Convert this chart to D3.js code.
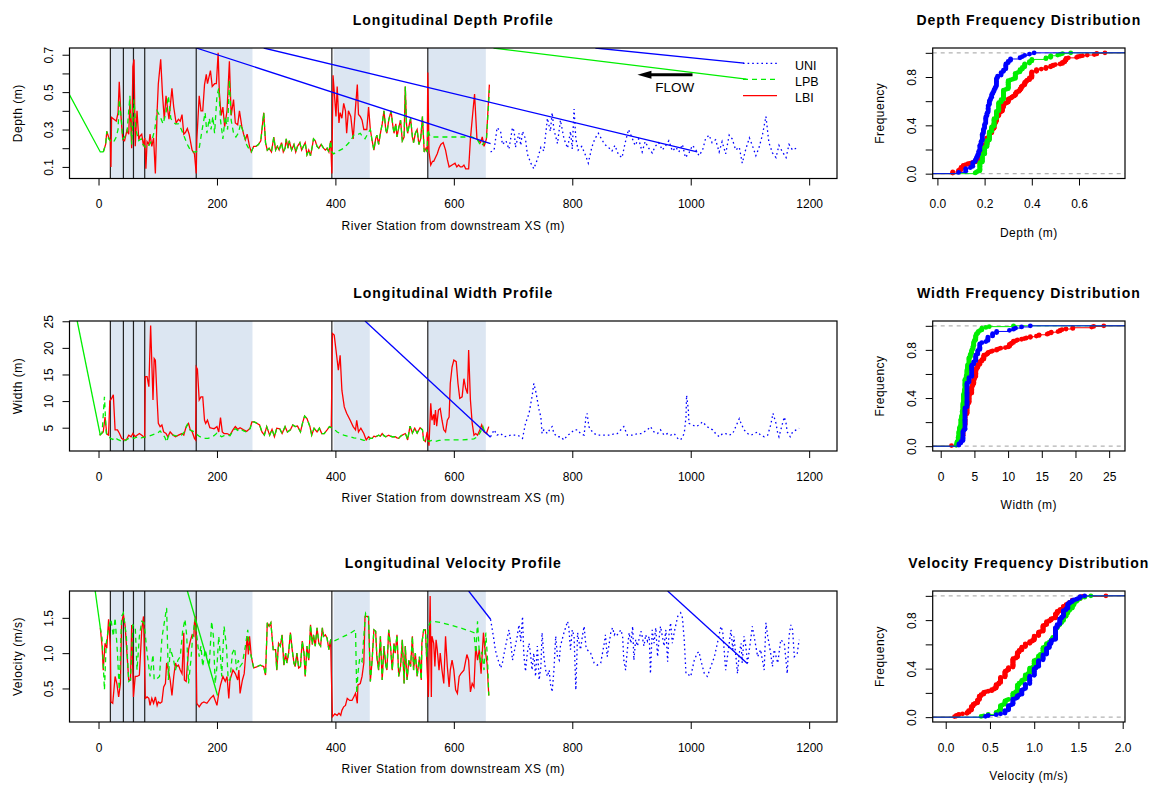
<!DOCTYPE html>
<html>
<head>
<meta charset="utf-8">
<script src="https://cdn.jsdelivr.net/npm/d3@7/dist/d3.min.js"></script>
<style>
body { margin: 0; background: #fff; }
svg text { font-family: "Liberation Sans", Arial, Helvetica, sans-serif; fill: #000; }
.title { font-size: 14px; font-weight: bold; letter-spacing: 1px; }
.axlab { font-size: 12px; letter-spacing: 0.5px; }
</style>
</head>
<body>
<svg id="chart" width="1149" height="785"></svg>
<script>
// ---------- data (station m, value) ----------
// depth (m)
let depthLbiA = [[8,0.18],[12,0.22],[14,0.29],[17,0.26],[20,0.24],[21,0.10],[22,0.365],[26,0.355],[30,0.345],[33,0.39],[35,0.555],[38,0.37],[41,0.245],[44,0.24],[48,0.295],[51,0.275],[53,0.46],[56,0.20],[58,0.635],[60,0.675],[62,0.21],[65,0.40],[68,0.245],[70,0.265],[73,0.275],[76,0.21],[78,0.255],[80,0.09],[82,0.235],[85,0.22],[87,0.275],[90,0.21],[93,0.255],[96,0.065],[99,0.40],[101,0.545],[105,0.675],[108,0.49],[111,0.355],[114,0.48],[117,0.40],[119,0.355],[124,0.52],[127,0.42],[131,0.335],[135,0.355],[138,0.345],[141,0.38],[144,0.275],[147,0.285],[150,0.305],[153,0.275],[158,0.19],[162,0.17],[165,0.065],[166,0.245],[170,0.48],[173,0.40],[176,0.40],[179,0.54],[182,0.595],[184,0.545],[189,0.615],[192,0.53],[196,0.545],[199,0.545],[202,0.71],[204,0.50],[207,0.375],[210,0.42],[213,0.315],[217,0.40],[221,0.665],[224,0.375],[228,0.46],[231,0.335],[235,0.325],[238,0.40],[242,0.315],[245,0.275],[248,0.245],[251,0.275],[255,0.21],[258,0.18]]
let depthLpbA = [[8,0.18],[12,0.22],[14,0.29],[17,0.25],[20,0.24],[25,0.23],[30,0.26],[33,0.30],[35,0.46],[38,0.37],[41,0.25],[44,0.26],[48,0.28],[53,0.48],[56,0.22],[60,0.46],[63,0.30],[68,0.24],[72,0.25],[75,0.22],[78,0.21],[82,0.20],[86,0.22],[90,0.24],[95,0.30],[99,0.40],[104,0.37],[109,0.33],[114,0.39],[118,0.48],[122,0.36],[126,0.34],[130,0.33],[135,0.33],[140,0.30],[145,0.26],[150,0.22],[155,0.19],[160,0.18],[165,0.18],[170,0.20],[175,0.30],[180,0.39],[183,0.28],[187,0.36],[190,0.30],[193,0.37],[196,0.28],[200,0.48],[203,0.52],[206,0.35],[210,0.25],[214,0.37],[218,0.30],[221,0.565],[224,0.35],[228,0.28],[232,0.26],[236,0.28],[240,0.33],[245,0.28],[250,0.22],[255,0.19],[258,0.18]]
let depthShared1 = [[262,0.21],[266,0.21],[270,0.22],[274,0.24],[276,0.30],[279,0.39],[282,0.23],[285,0.19],[288,0.20],[292,0.18],[296,0.26],[299,0.19],[302,0.21],[305,0.19],[309,0.23],[312,0.18],[315,0.20],[317,0.25],[320,0.20],[322,0.24],[326,0.19],[330,0.22],[333,0.18],[336,0.21],[340,0.23],[343,0.19],[346,0.21],[349,0.23],[352,0.165],[355,0.19],[358,0.16],[361,0.21],[363,0.25],[366,0.24],[369,0.21],[372,0.20],[376,0.22],[380,0.20],[383,0.19],[386,0.20],[389,0.18],[392,0.24]]
let depthLbiB = [[394,0.065],[396,0.59],[399,0.46],[401,0.37],[403,0.53],[406,0.335],[408,0.39],[411,0.36],[414,0.44],[417,0.40],[419,0.28],[422,0.40],[426,0.37],[430,0.25],[434,0.42],[437,0.54],[439,0.38],[442,0.37],[445,0.35],[448,0.30],[453,0.30],[456,0.42],[459,0.30]]
let depthLpbB = [[394,0.18],[397,0.17],[402,0.18],[408,0.19],[414,0.20],[420,0.22],[426,0.24],[431,0.27],[436,0.27],[442,0.28],[446,0.26],[450,0.25],[455,0.28],[459,0.30]]
let depthShared2 = [[462,0.24],[465,0.19],[468,0.25],[470,0.27],[473,0.22],[476,0.28],[479,0.33],[482,0.40],[485,0.30],[487,0.28],[490,0.35],[494,0.40],[497,0.32],[499,0.28],[502,0.33],[504,0.26],[507,0.31],[510,0.35],[513,0.24],[516,0.26],[518,0.53],[520,0.33],[522,0.28],[525,0.33],[527,0.36],[530,0.26],[532,0.23],[535,0.28],[538,0.30],[541,0.22],[544,0.25],[547,0.37],[550,0.18],[553,0.20],[555,0.18]]
let depthLbiC = [[556,0.605],[558,0.18],[561,0.11],[564,0.13],[566,0.13],[569,0.15],[572,0.17],[575,0.20],[578,0.22],[582,0.23],[586,0.19],[589,0.14],[592,0.10],[597,0.11],[602,0.12],[605,0.10],[608,0.11],[611,0.10],[614,0.10],[617,0.11],[620,0.09],[625,0.09],[628,0.25],[632,0.39],[635,0.49],[639,0.25],[642,0.24],[645,0.23],[648,0.26],[651,0.21],[655,0.25],[660,0.54]]
let depthLpbC = [[556,0.30],[559,0.27],[562,0.26],[600,0.26],[630,0.26],[639,0.25],[646,0.21],[651,0.23],[655,0.24],[660,0.51]]
let depthUni = [[662,0.18],[668,0.19],[673,0.31],[679,0.29],[682,0.22],[688,0.24],[693,0.195],[699,0.31],[702,0.29],[704,0.205],[710,0.28],[713,0.215],[716,0.29],[721,0.25],[724,0.17],[730,0.12],[735,0.09],[741,0.14],[747,0.205],[752,0.185],[758,0.36],[763,0.29],[766,0.39],[769,0.30],[775,0.225],[780,0.35],[786,0.25],[792,0.2],[797,0.29],[800,0.195],[803,0.41],[806,0.25],[810,0.19],[816,0.21],[822,0.165],[827,0.12],[833,0.205],[838,0.25],[844,0.28],[850,0.245],[855,0.22],[861,0.205],[867,0.185],[872,0.215],[878,0.165],[884,0.15],[889,0.225],[895,0.30],[901,0.255],[906,0.215],[912,0.25],[918,0.18],[923,0.235],[929,0.2],[935,0.175],[940,0.21],[946,0.23],[952,0.19],[957,0.21],[963,0.24],[969,0.185],[975,0.205],[980,0.18],[986,0.22],[991,0.15],[997,0.175],[1003,0.215],[1008,0.195],[1014,0.16],[1020,0.19],[1025,0.25],[1031,0.27],[1036,0.23],[1042,0.245],[1048,0.18],[1053,0.235],[1059,0.17],[1065,0.27],[1070,0.25],[1076,0.19],[1082,0.205],[1087,0.12],[1093,0.195],[1099,0.255],[1104,0.215],[1110,0.16],[1115,0.2],[1121,0.27],[1127,0.37],[1132,0.23],[1138,0.175],[1144,0.15],[1149,0.215],[1155,0.18],[1161,0.15],[1166,0.22],[1172,0.19],[1178,0.20]]
// stray solid segments that show up in the original plot
let depthStrayGreen = [[[-49,0.485],[3,0.18],[8,0.18]], [[667,0.736],[1094,0.569]]]
let depthStrayBlue = [[[165,0.736],[662,0.225]], [[279,0.736],[1011,0.18]], [[839,0.736],[1090,0.655]]]

// width (m)
let widthLbiA = [[2,3.6],[8,4.2],[11,7.0],[14,3.8],[17,3.6],[19,10.0],[22,10.5],[25,11.2],[28,4.6],[32,4.6],[35,4.0],[39,3.0],[43,2.7],[47,2.7],[51,3.6],[55,3.3],[58,3.9],[62,3.3],[65,3.6],[69,3.9],[73,3.6],[76,3.3],[78,3.2],[79,14.6],[82,14.6],[85,12.7],[88,24.2],[92,10.2],[94,18.0],[96,17.7],[99,10.2],[101,5.8],[104,5.2],[107,5.5],[110,4.2],[114,3.9],[117,3.3],[121,4.2],[126,3.6],[130,3.3],[135,3.6],[141,3.9],[144,3.6],[148,5.2],[152,5.8],[155,4.6],[158,4.3],[162,3.0],[164,2.7],[165,16.4],[167,16.0],[170,10.2],[173,10.8],[176,10.8],[179,6.4],[181,5.8],[184,6.4],[188,5.0],[191,4.9],[195,4.8],[200,5.2],[203,4.2],[206,6.9],[209,4.2],[212,3.9],[217,3.9],[222,3.6],[227,4.6],[231,5.2],[235,4.7],[239,5.0],[245,4.6],[250,4.3],[256,4.9],[259,6.1]]
let widthLpbA = [[2,3.6],[6,4.0],[10,10.8],[13,4.0],[17,3.4],[20,3.0],[24,2.8],[28,3.2],[32,2.8],[36,2.6],[40,2.4],[44,2.5],[48,2.8],[52,3.0],[56,3.2],[60,3.0],[64,3.2],[68,3.3],[72,3.1],[76,3.2],[80,3.3],[85,3.4],[90,3.6],[95,3.8],[100,4.0],[104,4.4],[108,3.8],[112,3.2],[115,2.3],[118,3.4],[122,3.8],[126,3.6],[130,3.5],[135,3.4],[140,3.6],[145,4.2],[150,5.6],[154,4.6],[158,4.4],[162,4.2],[165,3.8],[170,3.4],[175,3.1],[180,3.0],[185,3.0],[190,3.2],[195,3.5],[200,4.0],[204,3.6],[208,3.3],[212,3.5],[217,3.6],[222,3.5],[227,4.4],[231,4.8],[235,4.5],[239,4.8],[245,4.4],[250,4.2],[256,4.8],[259,6.1]]
let widthShared1 = [[263,6.1],[268,5.8],[272,5.5],[276,4.2],[280,3.6],[284,5.2],[289,3.6],[293,4.7],[297,3.3],[301,4.9],[306,4.8],[310,3.9],[315,5.2],[319,4.2],[324,4.6],[328,5.5],[332,5.2],[336,5.3],[341,4.2],[345,6.1],[348,7.2],[352,6.7],[357,5.2],[360,3.6],[364,4.9],[369,4.2],[373,4.9],[377,3.9],[381,3.9],[386,4.6],[390,5.2],[393,5.0]]
let widthLbiB = [[395,22.7],[398,22.4],[401,19.6],[405,15.8],[408,18.6],[411,12.0],[415,8.9],[419,7.7],[425,6.4],[430,5.2],[434,4.6],[436,6.4],[439,4.2],[443,4.9],[448,3.9],[452,2.7],[456,3.3],[459,3.0]]
let widthLpbB = [[396,4.9],[403,4.2],[408,3.9],[414,3.6],[420,3.4],[425,3.3],[431,3.1],[437,3.0],[443,2.8],[448,2.6],[453,2.6],[456,2.7],[459,3.0]]
let widthShared2 = [[462,3.0],[465,3.4],[468,3.3],[473,3.6],[476,3.4],[479,3.9],[482,3.5],[485,3.3],[490,3.6],[493,3.4],[496,3.3],[501,3.3],[504,3.1],[507,3.0],[510,3.4],[513,3.6],[518,3.9],[520,3.4],[522,2.7],[526,5.3],[530,4.0],[534,4.9],[538,4.0],[543,5.0],[547,4.6],[549,2.7],[552,2.4]]
let widthLbiC = [[555,4.2],[558,1.6],[561,9.6],[563,6.4],[566,7.5],[567,5.5],[569,8.3],[571,5.3],[574,8.3],[577,8.6],[580,6.4],[583,4.6],[586,4.2],[589,6.4],[592,7.0],[594,13.3],[597,16.4],[600,17.7],[604,17.4],[607,13.3],[610,10.5],[614,10.8],[617,14.2],[620,12.4],[623,11.4],[625,19.6],[628,10.2],[631,5.8],[634,3.6],[637,3.9],[640,3.6],[644,4.6],[647,5.5],[651,4.2],[655,3.9],[659,5.2]]
let widthLpbC = [[555,2.7],[558,2.4],[562,2.6],[568,2.4],[575,2.6],[585,2.7],[600,2.7],[615,2.7],[625,2.8],[634,2.9],[640,3.3],[645,4.2],[649,5.2],[653,3.9],[657,3.8]]
let widthUni = [[662,3.3],[668,4.6],[673,3.6],[679,3.9],[685,3.3],[690,3.4],[696,3.6],[702,3.6],[707,3.6],[713,3.3],[716,3.0],[721,5.8],[727,7.7],[732,10.8],[735,13.3],[738,12.0],[741,10.2],[744,8.3],[747,7.0],[749,3.9],[752,4.6],[758,3.9],[763,4.9],[766,5.2],[769,3.9],[775,3.3],[780,3.3],[786,2.7],[792,3.6],[797,3.9],[803,4.6],[809,4.6],[814,3.9],[820,3.6],[823,7.0],[825,7.7],[828,5.2],[831,4.6],[837,3.9],[842,3.6],[848,3.6],[854,3.6],[859,3.6],[865,3.6],[871,3.9],[876,3.9],[882,4.6],[887,5.2],[893,3.6],[899,3.6],[904,3.6],[910,3.9],[916,3.9],[921,4.2],[927,4.6],[932,5.2],[938,4.2],[944,3.9],[949,4.6],[955,3.6],[961,3.9],[966,3.6],[972,3.9],[978,3.0],[983,2.7],[989,3.9],[992,7.0],[993,11.1],[996,8.3],[997,5.8],[1003,5.5],[1009,5.2],[1014,5.5],[1020,6.1],[1025,5.5],[1031,4.9],[1037,4.6],[1042,3.9],[1048,3.3],[1054,3.9],[1059,3.9],[1065,3.6],[1071,3.9],[1076,5.2],[1082,6.7],[1085,5.8],[1090,4.6],[1096,3.9],[1102,3.6],[1107,3.9],[1113,4.2],[1118,3.6],[1124,3.3],[1130,3.6],[1135,5.5],[1139,7.7],[1144,5.8],[1147,3.9],[1149,3.3],[1155,5.8],[1158,7.0],[1161,5.8],[1163,4.2],[1168,3.3],[1172,4.2],[1178,4.6],[1183,4.9]]
let widthStrayGreen = [[[-36,25.05],[3,3.6]]]
let widthStrayBlue = [[[450,25.05],[662,3.2]]]

// velocity (m/s)
let velLbiA = [[3,1.36],[6,1.10],[8,0.76],[11,1.14],[14,1.07],[17,1.48],[20,1.10],[21,0.31],[24,0.29],[28,0.67],[31,0.57],[34,0.38],[37,0.57],[39,1.43],[42,1.55],[45,1.38],[48,1.0],[51,0.62],[54,0.62],[56,1.40],[59,0.38],[62,0.67],[65,0.67],[69,0.69],[73,1.33],[76,1.52],[79,0.36],[82,0.38],[85,0.36],[87,0.26],[90,0.36],[93,0.29],[96,0.38],[99,0.26],[101,0.31],[104,0.29],[107,0.31],[110,0.52],[113,0.57],[115,0.86],[118,0.76],[121,0.62],[124,0.40],[127,0.67],[130,0.86],[132,0.81],[135,0.83],[138,0.76],[141,0.71],[144,1.29],[145,0.62],[148,0.60],[152,1.05],[155,1.17],[158,1.26],[161,1.24],[162,1.43],[164,1.52],[166,0.29],[170,0.24],[174,0.29],[178,0.31],[183,0.29],[189,0.36],[194,0.40],[200,0.26],[203,0.43],[206,0.55],[210,0.67],[214,0.60],[217,0.67],[220,0.36],[222,0.62],[227,0.76],[231,0.71],[235,0.62],[237,0.76],[239,0.43],[243,0.62],[246,0.71],[251,1.24],[253,0.98],[255,1.24],[258,0.95]]
let velLpbA = [[3,1.36],[6,1.21],[10,0.48],[13,1.14],[17,1.36],[21,1.48],[25,1.24],[28,1.50],[32,1.0],[35,0.48],[39,1.52],[42,1.57],[47,1.24],[51,0.60],[54,0.62],[58,1.40],[62,1.38],[65,0.76],[69,1.24],[73,1.45],[77,1.43],[82,1.0],[87,0.67],[92,0.98],[94,0.62],[99,0.64],[103,0.67],[107,1.21],[111,1.43],[115,1.64],[118,0.62],[121,1.07],[126,0.93],[130,0.76],[134,0.90],[138,0.95],[142,1.31],[146,1.48],[149,1.24],[152,0.57],[156,0.90],[159,1.24],[163,1.48],[166,1.24],[170,0.95],[173,1.10],[176,0.81],[180,1.05],[183,0.95],[187,0.81],[191,1.45],[194,1.24],[197,0.57],[200,0.81],[203,1.24],[206,0.95],[208,0.67],[212,1.38],[216,1.10],[219,0.62],[222,0.62],[226,1.0],[230,1.07],[233,0.76],[236,0.90],[239,0.81],[243,0.86],[248,1.10],[252,1.33],[255,1.05],[258,0.95]]
let velShared1 = [[262,0.79],[268,0.81],[273,0.83],[279,0.81],[282,0.69],[285,1.43],[288,1.38],[291,1.43],[295,1.05],[299,1.05],[301,0.76],[304,1.14],[307,1.10],[310,1.26],[313,0.83],[316,1.0],[318,0.86],[321,1.0],[324,1.29],[327,1.05],[330,0.86],[332,0.81],[335,1.0],[338,0.79],[341,0.81],[344,1.17],[347,1.0],[349,0.67],[352,1.10],[355,0.90],[358,1.40],[361,1.12],[363,1.26],[366,1.10],[369,1.36],[372,1.14],[375,1.10],[378,1.36],[380,1.24],[383,1.26],[386,1.21],[389,1.05],[392,1.19]]
let velLbiB = [[393,0.76],[395,0.10],[399,0.14],[403,0.12],[406,0.15],[409,0.12],[411,0.19],[414,0.24],[417,0.26],[420,0.36],[424,0.33],[428,0.33],[431,0.38],[434,0.43],[437,0.29],[438,0.55],[442,0.57],[445,0.67],[448,0.86],[450,1.52],[454,1.52],[456,1.50],[459,0.60]]
let velLpbB = [[393,1.19],[397,1.17],[405,1.20],[415,1.24],[425,1.28],[434,1.33],[436,0.43],[438,0.71],[441,0.93],[445,0.88],[448,1.24],[451,1.57],[456,1.52],[459,0.60]]
let velShared2 = [[462,0.90],[465,1.33],[468,1.31],[470,0.95],[473,0.76],[476,1.24],[479,0.62],[482,1.10],[485,0.83],[487,0.76],[490,1.33],[493,1.10],[496,0.76],[499,1.14],[501,1.0],[504,1.26],[507,0.67],[510,0.81],[513,1.19],[516,0.57],[518,1.10],[521,0.62],[524,0.90],[527,0.81],[530,1.24],[532,0.76],[535,1.0],[538,0.67],[542,0.95],[545,0.62],[546,1.14],[549,1.33],[552,1.33],[554,0.95]]
let velLbiC = [[557,0.38],[560,1.81],[562,0.38],[563,1.24],[566,1.14],[568,0.81],[570,1.19],[572,1.05],[575,0.76],[577,1.0],[580,0.76],[583,0.57],[586,1.24],[589,0.81],[592,0.52],[594,0.76],[597,0.90],[600,0.76],[603,0.48],[606,0.43],[609,0.67],[612,0.71],[617,0.76],[622,0.98],[625,0.90],[628,0.45],[631,0.57],[634,0.52],[637,1.10],[640,0.90],[643,1.05],[646,0.71],[650,1.29],[652,1.10],[656,0.86],[659,0.40]]
let velLpbC = [[557,1.38],[561,1.45],[566,1.45],[580,1.43],[594,1.40],[610,1.36],[628,1.31],[634,1.29],[637,1.0],[640,1.45],[644,0.86],[647,1.02],[651,0.76],[654,1.29],[657,0.90],[659,0.40]]
let velUni = [[662,1.48],[665,1.33],[668,1.17],[670,1.05],[673,0.95],[679,0.79],[682,0.86],[685,1.0],[690,1.21],[693,1.33],[696,1.17],[699,0.90],[702,1.02],[707,1.24],[710,1.40],[713,1.17],[716,1.52],[718,1.0],[721,0.74],[724,1.0],[727,1.14],[730,0.95],[732,0.76],[735,1.0],[738,0.67],[741,1.10],[744,0.62],[747,0.81],[749,1.29],[752,0.95],[755,0.76],[758,0.67],[761,0.76],[763,0.57],[766,0.45],[769,0.76],[772,1.24],[775,0.95],[778,0.90],[780,1.10],[786,1.29],[792,1.45],[794,1.38],[797,1.05],[800,1.33],[803,1.24],[806,0.48],[809,1.29],[811,1.17],[814,1.05],[817,1.24],[820,1.38],[823,1.10],[825,1.05],[831,1.0],[837,0.86],[842,0.83],[848,0.86],[854,1.14],[856,1.26],[859,0.95],[865,1.29],[868,1.36],[871,1.26],[873,1.29],[876,1.26],[882,1.33],[885,1.24],[887,0.90],[890,0.76],[893,1.05],[896,1.29],[899,1.14],[902,1.38],[904,0.90],[907,1.19],[910,1.10],[916,1.31],[918,1.24],[921,1.10],[924,1.26],[927,1.17],[930,1.24],[932,0.71],[935,1.33],[938,1.14],[941,1.36],[944,0.95],[947,1.24],[949,1.38],[955,1.10],[958,1.33],[961,0.88],[963,1.24],[966,1.43],[969,1.14],[972,1.29],[978,1.52],[983,1.57],[986,1.50],[989,1.19],[992,0.71],[994,0.71],[1000,0.67],[1006,0.90],[1011,1.0],[1014,1.02],[1017,0.90],[1023,0.71],[1028,0.67],[1034,0.81],[1040,0.95],[1045,1.14],[1051,1.38],[1054,1.31],[1059,0.76],[1062,0.95],[1068,1.33],[1071,1.05],[1073,1.24],[1079,0.71],[1082,1.0],[1085,1.14],[1087,0.86],[1090,1.24],[1093,1.10],[1096,0.86],[1102,1.24],[1104,1.38],[1107,1.24],[1113,0.95],[1118,1.05],[1124,0.76],[1127,1.43],[1130,1.24],[1135,1.0],[1138,0.81],[1141,1.05],[1147,0.86],[1152,1.19],[1158,1.14],[1163,0.71],[1166,1.24],[1169,1.40],[1172,1.33],[1175,0.95],[1180,1.0],[1183,1.19]]
let velStrayGreen = [[[-5.6,1.88],[3,1.36]], [[150,1.88],[201,0.40]]]
let velStrayBlue = [[[625,1.88],[662,1.48]], [[961,1.88],[1096,0.85]]]

// reach shading and cross-section markers (station m)
let shadedReaches = [[21,260],[397,458],[556,654]]
let xsStations = [20,42,59,78,165,394,556]

let seriesNames = ["UNI", "LPB", "LBI"]
let stationTicks = [0, 200, 400, 600, 800, 1000, 1200]
let freqTicks = [0, 0.2, 0.4, 0.6, 0.8, 1.0]
let freqLabels = [0, 0.4, 0.8]

// ---------- layout ----------
let svg = d3.select("#chart")
let profileLeft = 69.5, profileRight = 837
let ecdfLeft = 932.7, ecdfRight = 1125
let colors = {LBI: "#ff0000", LPB: "#00ee00", UNI: "#0000ff"}
let dashes = {LBI: null, LPB: "5,4", UNI: "1.6,3"}
let shadeColor = "#dce6f2"

let panels = [
	{
		top: 48, bottom: 178.5,
		title: "Longitudinal Depth Profile", ylab: "Depth (m)",
		yDomain: [0.038, 0.736], yTicks: [0.1, 0.2, 0.3, 0.4, 0.5, 0.6, 0.7], yLabels: [0.1, 0.3, 0.5, 0.7], yFmt: d3.format(".1f"),
		LBI: [...depthLbiA, ...depthShared1, ...depthLbiB, ...depthShared2, ...depthLbiC],
		LPB: [...depthLpbA, ...depthShared1, ...depthLpbB, ...depthShared2, ...depthLpbC],
		UNI: depthUni,
		strayGreen: depthStrayGreen, strayBlue: depthStrayBlue,
		eTitle: "Depth Frequency Distribution", eXlab: "Depth (m)",
		eDomain: [-0.02, 0.795], eTicks: [0, 0.2, 0.4, 0.6], eFmt: d3.format(".1f"),
		legend: true
	},
	{
		top: 321, bottom: 451,
		title: "Longitudinal Width Profile", ylab: "Width (m)",
		yDomain: [0.62, 25.05], yTicks: [5, 10, 15, 20, 25], yLabels: [5, 10, 15, 20, 25], yFmt: d3.format("d"),
		LBI: [...widthLbiA, ...widthShared1, ...widthLbiB, ...widthShared2, ...widthLbiC],
		LPB: [...widthLpbA, ...widthShared1, ...widthLpbB, ...widthShared2, ...widthLpbC],
		UNI: widthUni,
		strayGreen: widthStrayGreen, strayBlue: widthStrayBlue,
		eTitle: "Width Frequency Distribution", eXlab: "Width (m)",
		eDomain: [-1.19, 27.35], eTicks: [0, 5, 10, 15, 20, 25], eFmt: d3.format("d")
	},
	{
		top: 591, bottom: 722,
		title: "Longitudinal Velocity Profile", ylab: "Velocity (m/s)",
		yDomain: [0.025, 1.88], yTicks: [0.5, 1.0, 1.5], yLabels: [0.5, 1.0, 1.5], yFmt: d3.format(".1f"),
		LBI: [...velLbiA, ...velShared1, ...velLbiB, ...velShared2, ...velLbiC],
		LPB: [...velLpbA, ...velShared1, ...velLpbB, ...velShared2, ...velLpbC],
		UNI: velUni,
		strayGreen: velStrayGreen, strayBlue: velStrayBlue,
		eTitle: "Velocity Frequency Distribution", eXlab: "Velocity (m/s)",
		eDomain: [-0.147, 2.026], eTicks: [0, 0.5, 1.0, 1.5, 2.0], eFmt: d3.format(".1f")
	}
]

let xStation = d3.scaleLinear().domain([-49, 1247]).range([profileLeft, profileRight])

function styleAxis(g) {
	g.select(".domain").remove()
	g.selectAll(".tick line").attr("stroke", "#000")
	g.selectAll("text").style("font-size", "12px")
}

function rotateYLabels(g) {
	g.selectAll("text")
		.attr("x", 0)
		.attr("dy", "0.35em")
		.attr("text-anchor", "middle")
		.attr("transform", "translate(-21,0) rotate(-90)")
}

panels.forEach((p, i) => {
	let y = d3.scaleLinear().domain(p.yDomain).range([p.bottom, p.top])
	let clipId = "clip" + i

	svg.append("clipPath").attr("id", clipId)
		.append("rect")
		.attr("x", profileLeft).attr("y", p.top)
		.attr("width", profileRight - profileLeft).attr("height", p.bottom - p.top)

	let body = svg.append("g").attr("clip-path", "url(#" + clipId + ")")

	//shaded reaches
	body.selectAll(".reach")
		.data(shadedReaches)
		.enter()
		.append("rect")
		.attr("x", d => xStation(d[0]))
		.attr("width", d => xStation(d[1]) - xStation(d[0]))
		.attr("y", p.top)
		.attr("height", p.bottom - p.top)
		.attr("fill", shadeColor)

	//cross-section markers
	body.selectAll(".xs")
		.data(xsStations)
		.enter()
		.append("line")
		.attr("x1", d => xStation(d)).attr("x2", d => xStation(d))
		.attr("y1", p.top).attr("y2", p.bottom)
		.attr("stroke", "#222")
		.attr("stroke-width", 1.2)

	let valueLine = d3.line()
		.x(d => xStation(d[0]))
		.y(d => y(d[1]))

	;["LBI", "LPB", "UNI"].forEach(name => {
		body.append("path")
			.datum(p[name])
			.attr("d", valueLine)
			.attr("fill", "none")
			.attr("stroke", colors[name])
			.attr("stroke-width", 1.3)
			.attr("stroke-dasharray", dashes[name])
	})

	p.strayGreen.forEach(seg => {
		body.append("path").datum(seg).attr("d", valueLine)
			.attr("fill", "none").attr("stroke", colors.LPB).attr("stroke-width", 1.3)
	})
	p.strayBlue.forEach(seg => {
		body.append("path").datum(seg).attr("d", valueLine)
			.attr("fill", "none").attr("stroke", colors.UNI).attr("stroke-width", 1.3)
	})

	//box
	svg.append("rect")
		.attr("x", profileLeft).attr("y", p.top)
		.attr("width", profileRight - profileLeft).attr("height", p.bottom - p.top)
		.attr("fill", "none").attr("stroke", "#000").attr("stroke-width", 1.2)

	//axes
	svg.append("g")
		.attr("transform", "translate(0," + p.bottom + ")")
		.call(d3.axisBottom(xStation).tickValues(stationTicks).tickSize(7).tickPadding(14).tickFormat(d3.format("d")))
		.call(styleAxis)

	svg.append("g")
		.attr("transform", "translate(" + profileLeft + ",0)")
		.call(d3.axisLeft(y).tickValues(p.yTicks).tickSize(7).tickFormat(d => p.yLabels.includes(d) ? p.yFmt(d) : ""))
		.call(styleAxis)
		.call(rotateYLabels)

	let cx = (profileLeft + profileRight) / 2
	svg.append("text")
		.attr("class", "title")
		.attr("x", cx).attr("y", p.top - 23)
		.attr("text-anchor", "middle")
		.text(p.title)

	svg.append("text")
		.attr("class", "axlab")
		.attr("x", cx).attr("y", p.bottom + 51)
		.attr("text-anchor", "middle")
		.text("River Station from downstream XS (m)")

	svg.append("text")
		.attr("class", "axlab")
		.attr("transform", "translate(18," + (p.top + p.bottom) / 2 + ") rotate(-90)")
		.attr("dy", "0.35em")
		.attr("text-anchor", "middle")
		.text(p.ylab)

	if (p.legend) drawLegend(y)

	drawEcdf(p)
})

function drawLegend(y) {
	let rows = [{name: "UNI", ly: 63.3}, {name: "LPB", ly: 79.3}, {name: "LBI", ly: 95.7}]
	let leg = svg.append("g")
	rows.forEach(r => {
		leg.append("line")
			.attr("x1", 743).attr("x2", 777).attr("y1", r.ly).attr("y2", r.ly)
			.attr("stroke", colors[r.name]).attr("stroke-width", 1.3)
			.attr("stroke-dasharray", dashes[r.name])
		leg.append("text")
			.attr("x", 795).attr("y", r.ly + 2).attr("dy", "0.35em")
			.style("font-size", "12.5px")
			.text(r.name)
	})

	//flow arrow, placed in data units
	let ax0 = xStation(1003), ax1 = xStation(910), ay = y(0.593)
	leg.append("line")
		.attr("x1", ax0).attr("x2", ax1 + 12).attr("y1", ay).attr("y2", ay)
		.attr("stroke", "#000").attr("stroke-width", 3)
	leg.append("path")
		.attr("d", "M" + ax1 + "," + ay + "L" + (ax1 + 14) + "," + (ay - 4) + "L" + (ax1 + 14) + "," + (ay + 4) + "Z")
		.attr("fill", "#000")
	leg.append("text")
		.attr("x", xStation(940)).attr("y", y(0.528)).attr("dy", "0.35em")
		.style("font-size", "13.5px")
		.text("FLOW")
}

function drawEcdf(p) {
	let x = d3.scaleLinear().domain(p.eDomain).range([ecdfLeft, ecdfRight])
	let y = d3.scaleLinear().domain([-0.04, 1.04]).range([p.bottom, p.top])
	let g = svg.append("g")

	//reference lines at 0 and 1
	g.selectAll(".ref")
		.data([0, 1])
		.enter()
		.append("line")
		.attr("x1", ecdfLeft).attr("x2", ecdfRight)
		.attr("y1", d => y(d)).attr("y2", d => y(d))
		.attr("stroke", "#b3b3b3").attr("stroke-width", 1.2).attr("stroke-dasharray", "4,4")

	;["LBI", "LPB", "UNI"].forEach(name => {
		let vals = p[name].map(d => d[1]).sort(d3.ascending)
		let n = vals.length
		let steps = vals.map((v, k) => ({x0: v, x1: k < n - 1 ? vals[k + 1] : p.eDomain[1], f: (k + 1) / n}))
		steps.unshift({x0: p.eDomain[0], x1: vals[0], f: 0})

		g.append("g").selectAll("line")
			.data(steps)
			.enter()
			.append("line")
			.attr("x1", d => x(d.x0)).attr("x2", d => x(d.x1))
			.attr("y1", d => y(d.f)).attr("y2", d => y(d.f))
			.attr("stroke", colors[name]).attr("stroke-width", 1)

		g.append("g").selectAll("circle")
			.data(steps.slice(1))
			.enter()
			.append("circle")
			.attr("cx", d => x(d.x0))
			.attr("cy", d => y(d.f))
			.attr("r", 2.4)
			.attr("fill", colors[name])
	})

	svg.append("rect")
		.attr("x", ecdfLeft).attr("y", p.top)
		.attr("width", ecdfRight - ecdfLeft).attr("height", p.bottom - p.top)
		.attr("fill", "none").attr("stroke", "#000").attr("stroke-width", 1.2)

	svg.append("g")
		.attr("transform", "translate(0," + p.bottom + ")")
		.call(d3.axisBottom(x).tickValues(p.eTicks).tickSize(7).tickPadding(14).tickFormat(p.eFmt))
		.call(styleAxis)

	svg.append("g")
		.attr("transform", "translate(" + ecdfLeft + ",0)")
		.call(d3.axisLeft(y).tickValues(freqTicks).tickSize(7).tickFormat(d => freqLabels.includes(d) ? d3.format(".1f")(d) : ""))
		.call(styleAxis)
		.call(rotateYLabels)

	let cx = (ecdfLeft + ecdfRight) / 2
	svg.append("text")
		.attr("class", "title")
		.attr("x", cx).attr("y", p.top - 23)
		.attr("text-anchor", "middle")
		.text(p.eTitle)

	svg.append("text")
		.attr("class", "axlab")
		.attr("x", cx).attr("y", p.bottom + 58)
		.attr("text-anchor", "middle")
		.text(p.eXlab)

	svg.append("text")
		.attr("class", "axlab")
		.attr("transform", "translate(880," + (p.top + p.bottom) / 2 + ") rotate(-90)")
		.attr("dy", "0.35em")
		.attr("text-anchor", "middle")
		.text("Frequency")
}
</script>
</body>
</html>
